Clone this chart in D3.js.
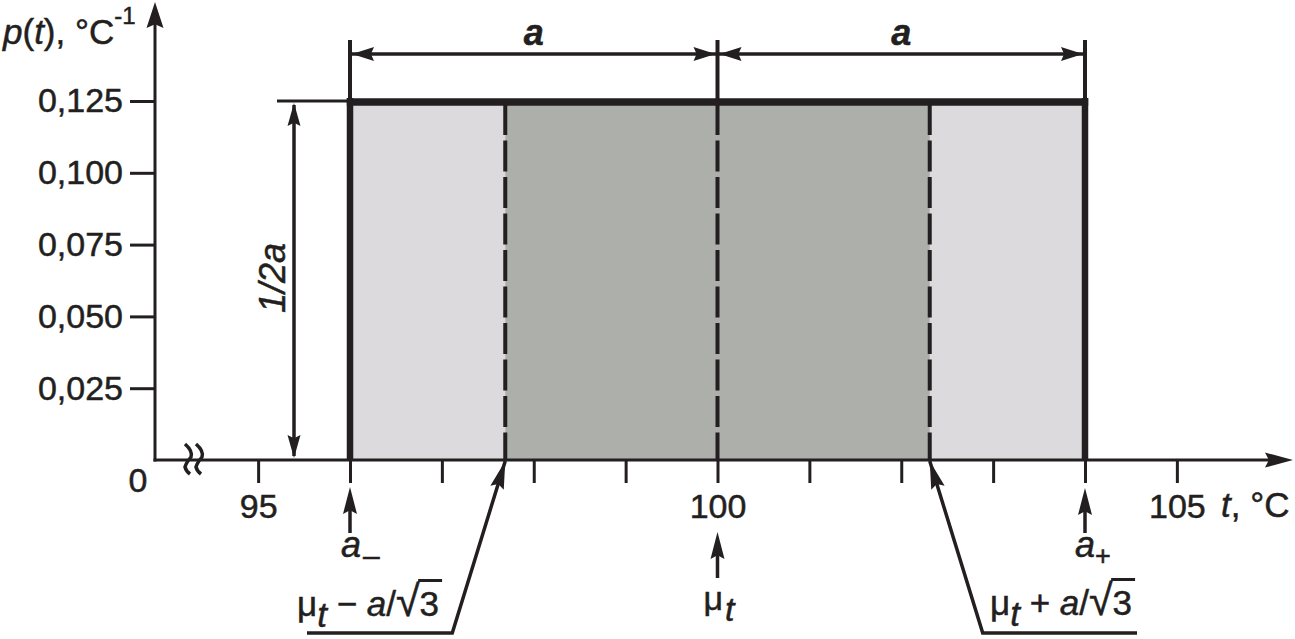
<!DOCTYPE html>
<html>
<head>
<meta charset="utf-8">
<script src="https://cdn.jsdelivr.net/npm/d3@7"></script>
<style>
  html, body { margin: 0; padding: 0; background: #ffffff; }
  svg { display: block; }
  text { font-family: "Liberation Sans", Arial, Helvetica, sans-serif; fill: #231f20; stroke: #231f20; stroke-width: 0.5px; }
</style>
</head>
<body>
<script>
// ---- data ----
const yTicks = [0.025, 0.05, 0.075, 0.1, 0.125];
const yTickLabels = ["0,025", "0,050", "0,075", "0,100", "0,125"];
const xTicks = [95, 96, 97, 98, 99, 100, 101, 102, 103, 104, 105];
const xLabeled = [95, 100, 105];
const limits = [96, 104];          // a-, a+
const mu = 100;                    // mu_t
const density = 0.125;             // 1/2a
const sigmaBounds = [97.69, 102.31]; // mu_t -/+ a/sqrt(3)

// ---- setup ----
const W = 1295, H = 639;
const C = "#231f20";
const svg = d3.select("body").append("svg").attr("width", W).attr("height", H);

const x = d3.scaleLinear().domain([96, 104]).range([350, 1085]);
const y = d3.scaleLinear().domain([0, 0.125]).range([460, 101]);
const x0 = 155; // broken axis origin

function arrowHead(tx, ty, angle, len, hw) {
  svg.append("path")
    .attr("d", `M0,0 L${-len},${-hw} L${-len * 0.86},0 L${-len},${hw} Z`)
    .attr("transform", `translate(${tx},${ty}) rotate(${angle})`)
    .attr("fill", C);
}
function line(x1, y1, x2, y2, w) {
  return svg.append("line").attr("x1", x1).attr("y1", y1).attr("x2", x2).attr("y2", y2)
    .attr("stroke", C).attr("stroke-width", w);
}

// ---- fills ----
svg.append("rect")
  .attr("x", x(limits[0])).attr("y", y(density))
  .attr("width", x(limits[1]) - x(limits[0])).attr("height", y(0) - y(density))
  .attr("fill", "#dcdadd");
svg.append("rect")
  .attr("x", x(sigmaBounds[0])).attr("y", y(density))
  .attr("width", x(sigmaBounds[1]) - x(sigmaBounds[0])).attr("height", y(0) - y(density))
  .attr("fill", "#adafab");

// dashed lines
[sigmaBounds[0], mu, sigmaBounds[1]].forEach(v => {
  line(x(v), y(density) + 3, x(v), y(0), 4).attr("stroke-dasharray", "31,5.5");
});

// rectangle borders
line(x(limits[0]), y(density) - 3, x(limits[0]), y(0), 6.5);
line(x(limits[1]), y(density) - 3, x(limits[1]), y(0), 6.5);
line(x(limits[0]) - 3.2, y(density) + 1, x(limits[1]) + 3.2, y(density) + 1, 7.5);
// horizontal extension line
line(277, y(density), x(limits[0]), y(density), 3);

// ---- axes ----
const gy = svg.append("g").attr("transform", `translate(${x0},0)`)
  .call(d3.axisLeft(y).tickValues(yTicks).tickSize(25).tickPadding(7)
    .tickFormat((d, i) => yTickLabels[i]));
gy.select(".domain").remove();
gy.selectAll(".tick line").attr("stroke", C).attr("stroke-width", 3);
gy.selectAll(".tick text").attr("font-size", 34).attr("font-family", "Liberation Sans, Arial, sans-serif").attr("fill", C);

const gx = svg.append("g").attr("transform", `translate(0,${y(0)})`)
  .call(d3.axisBottom(x).tickValues(xTicks).tickSize(23).tickPadding(11)
    .tickFormat(d => xLabeled.includes(d) ? String(d) : ""));
gx.select(".domain").remove();
gx.selectAll(".tick line").attr("stroke", C).attr("stroke-width", 3);
gx.selectAll(".tick text").attr("font-size", 34).attr("font-family", "Liberation Sans, Arial, sans-serif").attr("fill", C);

// axis lines with arrows
line(x0, y(0) + 1.5, x0, 22, 3);
arrowHead(x0, 2, -90, 26, 8.5);
line(x0 - 1.5, y(0), 1272, y(0), 3);
arrowHead(1293, y(0), 0, 28, 7.5);

// axis break mark
[185, 196].forEach(bx => {
  svg.append("path")
    .attr("d", `M${bx},444 Q${bx + 8},451 ${bx + 6},457 Q${bx + 1},463 ${bx},467 Q${bx + 1},471 ${bx + 5},474`)
    .attr("fill", "none").attr("stroke", C).attr("stroke-width", 3.5);
});

// ---- dimension "a" at top ----
const dimY = 54;
[limits[0], mu, limits[1]].forEach(v => line(x(v), 40, x(v), y(density), 4));
line(x(limits[0]), dimY, x(limits[1]), dimY, 3.5);
arrowHead(x(limits[0]) + 2, dimY, 180, 22, 7);
arrowHead(x(mu) - 2, dimY, 0, 22, 7);
arrowHead(x(mu) + 2, dimY, 180, 22, 7);
arrowHead(x(limits[1]) - 2, dimY, 0, 22, 7);
[[limits[0], mu], [mu, limits[1]]].forEach(([a, b]) => {
  svg.append("text").attr("x", (x(a) + x(b)) / 2).attr("y", 45)
    .attr("text-anchor", "middle").attr("font-size", 36)
    .attr("font-style", "italic").attr("font-weight", "bold").text("a");
});

// ---- vertical dimension 1/2a ----
const vdX = 294;
line(vdX, y(density) + 4, vdX, y(0) - 4, 3.5);
arrowHead(vdX, y(density) + 2, -90, 23, 6.5);
arrowHead(vdX, y(0) - 2, 90, 23, 6.5);
svg.append("text").attr("transform", `translate(285,278) rotate(-90)`)
  .attr("text-anchor", "middle").attr("font-size", 36).attr("font-style", "italic")
  .text("1/2a");

// ---- axis titles ----
const ty = svg.append("text").attr("x", 3).attr("y", 44).attr("font-size", 35);
ty.append("tspan").attr("font-style", "italic").text("p");
ty.append("tspan").text("(");
ty.append("tspan").attr("font-style", "italic").text("t");
ty.append("tspan").text("), °C");
ty.append("tspan").attr("font-size", 24).attr("dy", -20).text("-1");

svg.append("text").attr("x", 138).attr("y", 492).attr("text-anchor", "middle")
  .attr("font-size", 34).text("0");

const tx = svg.append("text").attr("x", 1221).attr("y", 517).attr("font-size", 35);
tx.append("tspan").attr("font-style", "italic").text("t");
tx.append("tspan").text(", °C");

// ---- bottom pointer arrows ----
line(x(limits[0]), 533, x(limits[0]), 500, 3.5);
arrowHead(x(limits[0]), 487, -90, 27, 7);
line(x(mu), 578, x(mu), 545, 3.5);
arrowHead(x(mu), 532, -90, 27, 7);
line(x(limits[1]), 533, x(limits[1]), 500, 3.5);
arrowHead(x(limits[1]), 488, -90, 27, 7);

const am = svg.append("text").attr("x", x(limits[0]) - 9).attr("y", 557).attr("font-size", 36);
am.append("tspan").attr("font-style", "italic").text("a");
am.append("tspan").attr("font-size", 30).attr("dy", 9).attr("dx", 2).text("–");

const ap = svg.append("text").attr("x", x(limits[1]) - 10).attr("y", 557).attr("font-size", 36);
ap.append("tspan").attr("font-style", "italic").text("a");
ap.append("tspan").attr("font-size", 27).attr("dy", 8).text("+");

const mt = svg.append("text").attr("x", x(mu) - 14).attr("y", 610).attr("font-size", 34);
mt.append("tspan").text("μ");
mt.append("tspan").attr("font-style", "italic").attr("dy", 11).attr("dx", 2).text("t");

// ---- leader lines to mu -/+ a/sqrt3 ----
const kneeY = 633;
const lx = x(sigmaBounds[0]), rx = x(sigmaBounds[1]);
svg.append("path").attr("d", `M${lx},${y(0) + 1} L${lx - 53},${kneeY} L307,${kneeY}`)
  .attr("fill", "none").attr("stroke", C).attr("stroke-width", 3.5);
arrowHead(lx, y(0) + 1, Math.atan2(y(0) - kneeY, 53) * 180 / Math.PI, 28, 7);
svg.append("path").attr("d", `M${rx},${y(0) + 1} L${rx + 53},${kneeY} L1137,${kneeY}`)
  .attr("fill", "none").attr("stroke", C).attr("stroke-width", 3.5);
arrowHead(rx, y(0) + 1, Math.atan2(y(0) - kneeY, -53) * 180 / Math.PI, 28, 7);

function sigmaLabel(sx, sy, sign) {
  const t = svg.append("text").attr("x", sx).attr("y", sy).attr("font-size", 35);
  t.append("tspan").text("μ");
  t.append("tspan").attr("font-style", "italic").attr("dy", 11).text("t");
  t.append("tspan").attr("dy", -11).text(" " + sign + " ");
  t.append("tspan").attr("font-style", "italic").text("a");
  t.append("tspan").text("/");
  t.append("tspan").attr("font-size", 43).text("√");
  t.append("tspan").text("3");
  const node = t.node();
  const n = node.getNumberOfChars();
  const rs = node.getStartPositionOfChar(n - 2).x;
  const re = node.getEndPositionOfChar(n - 2).x;
  const e = node.getEndPositionOfChar(n - 1).x;
  // vinculum joined to the top of the radical
  const topY = sy - 0.86 * 43;
  svg.append("path").attr("d", `M${re - 1.5},${topY + 1.5} L${e + 3},${topY + 1.5}`)
    .attr("stroke", C).attr("stroke-width", 3).attr("fill", "none");
}
sigmaLabel(297, 616, "−");
sigmaLabel(990, 615, "+");
</script>
</body>
</html>
